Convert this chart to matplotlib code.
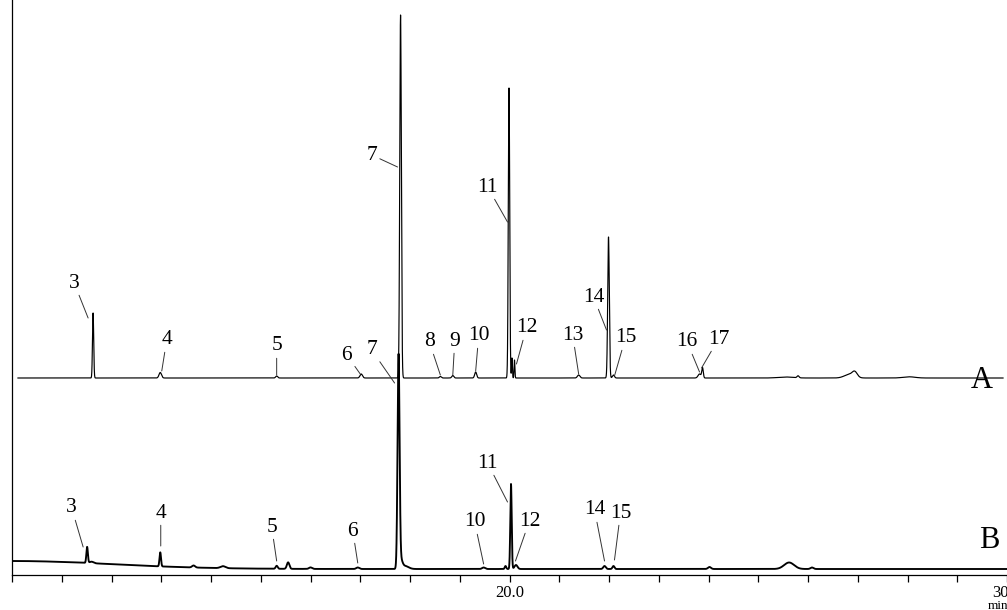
import numpy as np
import matplotlib
matplotlib.use("Agg")
import matplotlib.pyplot as plt

plt.rcParams["font.family"] = ["Liberation Serif", "DejaVu Serif"]

# chromatogram A: retention time (min), peak height, peak sigma (min)
a_times = [11.63, 12.98, 15.32, 17.02, 17.81, 18.61, 18.86, 19.32, 19.99,
           20.05, 20.10, 21.39, 21.99, 22.09, 23.82, 23.88, 25.55, 25.80,
           26.83, 26.94, 28.03]
a_heights = [65, 5.5, 2, 4, 363, 1.5, 2.5, 6, 290,
             20, 18, 3, 141, 3, 4, 10, 1, 2,
             3.5, 5, 1.2]
a_sigmas = [0.012, 0.025, 0.02, 0.025, 0.016, 0.02, 0.02, 0.02, 0.014,
            0.008, 0.008, 0.025, 0.016, 0.02, 0.03, 0.015, 0.15, 0.02,
            0.1, 0.05, 0.12]

# chromatogram B (first entry is the baseline drift at the start of the run)
b_times = [10.0, 11.51, 11.60, 12.98, 13.65, 14.24, 15.32, 15.55, 16.0,
           16.95, 17.77, 17.81, 17.90, 19.48, 19.92, 20.03, 20.13, 21.91,
           22.09, 24.02, 25.62, 26.08]
b_heights = [8, 16, 1.5, 14, 2, 2, 3, 6.5, 1.5,
             1.5, 210, 9, 3, 1.5, 3, 85, 4, 3,
             3, 2, 6.5, 1.5]
b_sigmas = [2.0, 0.015, 0.04, 0.015, 0.03, 0.05, 0.02, 0.025, 0.03,
            0.03, 0.02, 0.035, 0.07, 0.03, 0.015, 0.014, 0.03, 0.025,
            0.02, 0.03, 0.1, 0.03]

# peak labels: text, text position (min, signal), leader tip (min, signal)
a_labels = ["3", "4", "5", "6", "7", "8", "9", "10", "11", "12", "13",
            "14", "15", "16", "17"]
a_label_text = [(11.25, 292), (13.11, 235), (15.32, 229), (16.73, 220),
                (17.23, 420), (18.39, 233), (18.90, 234), (19.38, 239),
                (19.56, 388), (20.34, 247), (21.27, 240), (21.69, 278),
                (22.33, 237), (23.57, 233), (24.20, 236)]
a_label_tip = [(11.53, 257), (13.01, 204), (15.32, 200), (17.00, 201),
               (17.75, 408), (18.61, 200), (18.86, 200), (19.32, 204),
               (19.96, 353), (20.14, 211), (21.39, 201), (21.95, 245),
               (22.11, 199), (23.82, 203), (23.86, 207)]

b_labels = ["3", "4", "5", "6", "7", "10", "11", "12", "14", "15"]
b_label_text = [(11.20, 67), (12.99, 62), (15.22, 48), (16.85, 44),
                (17.23, 225), (19.30, 53), (19.56, 112), (20.40, 54),
                (21.71, 65), (22.23, 62)]
b_label_tip = [(11.43, 28), (12.99, 29), (15.32, 14), (16.95, 12),
               (17.69, 192), (19.48, 11), (19.96, 73), (20.12, 14),
               (21.91, 14), (22.11, 15)]

A_OFFSET = 197
B_OFFSET = 6


def trace(t, times, heights, sigmas):
    y = np.zeros_like(t)
    for tc, h, s in zip(times, heights, sigmas):
        y += h * np.exp(-0.5 * ((t - tc) / s) ** 2)
    return y


def main():
    fig = plt.figure(figsize=(10.07, 6.10), dpi=100)
    ax = fig.add_axes([12 / 1007, 35 / 610, 995 / 1007, 575 / 610])

    t_a = np.linspace(10.12, 29.92, 15841)
    t_b = np.linspace(10.0, 30.0, 16001)

    ax.plot(t_a, A_OFFSET + trace(t_a, a_times, a_heights, a_sigmas),
            color="black", lw=0.85)
    ax.plot(t_b, B_OFFSET + trace(t_b, b_times, b_heights, b_sigmas),
            color="black", lw=1.35)

    arrow = dict(arrowstyle="-", lw=0.7, color="#333333",
                 shrinkA=0, shrinkB=0)
    for labels, texts, tips in [
        (a_labels, a_label_text, a_label_tip),
        (b_labels, b_label_text, b_label_tip),
    ]:
        for lab, (tx, ty), (px, py) in zip(labels, texts, tips):
            ax.annotate(lab, xy=(px, py), xytext=(tx, ty), ha="center",
                        va="center", fontsize=15.5, arrowprops=arrow)

    ax.text(29.50, 195, "A", fontsize=22, ha="center", va="center")
    ax.text(29.64, 35, "B", fontsize=22, ha="center", va="center")

    ax.set_xlim(10, 30)
    ax.set_ylim(0, 575)
    ax.set_xticks(np.arange(10, 31, 1))
    ax.set_xticklabels(["20.0" if v == 20 else "30.0" if v == 30 else ""
                        for v in range(10, 31)], fontsize=12)
    ax.tick_params(axis="x", direction="out", length=5, width=0.9, pad=2)
    ax.set_yticks([])
    for side in ["top", "right"]:
        ax.spines[side].set_visible(False)
    ax.spines["left"].set_linewidth(0.9)
    ax.spines["bottom"].set_linewidth(0.9)

    # the reference is cropped on the right, so "30.0" and "min" run off the edge
    fig.text(988 / 1007, 1 - 606 / 610, "min", fontsize=9.5,
             ha="left", va="center")

    fig.savefig("out.png", dpi=100)
    plt.close(fig)


if __name__ == "__main__":
    main()
